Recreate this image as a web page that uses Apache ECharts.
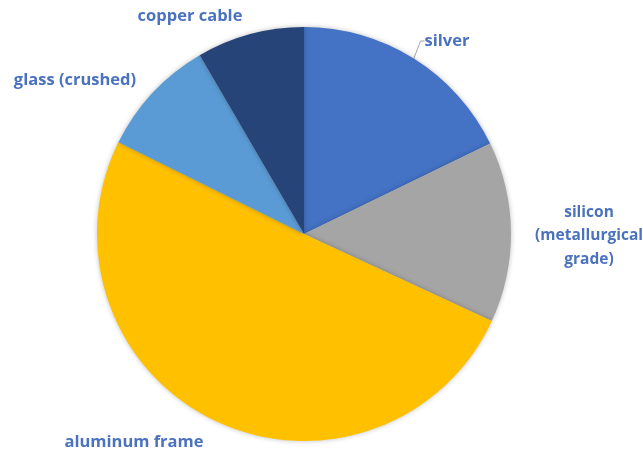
<!DOCTYPE html>
<html>
<head>
<meta charset="utf-8">
<script src="https://cdn.jsdelivr.net/npm/echarts@6/dist/echarts.min.js"></script>
<style>
  html, body { margin: 0; padding: 0; background: #fff; }
  #chart { width: 643px; height: 454px; }
</style>
</head>
<body>
<div id="chart"></div>
<script>
// Material share of a PV module (percent), clockwise from 12 o'clock
const materials = ['silver', 'silicon\n(metallurgical\ngrade)', 'aluminum frame', 'glass (crushed)', 'copper cable'];
const shares = [17.8, 14.1, 50.4, 9.3, 8.4];
const colors = ['#4472C4', '#A5A5A5', '#FFC000', '#5B9BD5', '#264478'];

// Where each category label sits (label anchor, not the slice)
const labelSpots = [
  { x: 447, y: 41 },
  { x: 589, y: 236 },
  { x: 134, y: 442 },
  { x: 75, y: 80 },
  { x: 190, y: 16 }
];

const chart = echarts.init(document.getElementById('chart'));
chart.setOption({
  animation: false,
  series: [{
    type: 'pie',
    center: [304, 234],
    radius: [0, 207],
    startAngle: 90,
    clockwise: true,
    avoidLabelOverlap: false,
    data: materials.map((name, i) => ({
      name,
      value: shares[i],
      itemStyle: { color: colors[i] },
      labelLine: { show: i === 0 },
      // the three-line label sits against the right edge, so it runs a touch smaller
      label: i === 1 ? { fontSize: 15.5 } : undefined
    })),
    itemStyle: {
      borderWidth: 0,
      shadowBlur: 5,
      shadowColor: 'rgba(0,0,0,0.25)'
    },
    label: {
      show: true,
      position: 'outside',
      formatter: '{b}',
      color: '#4A72BF',
      fontFamily: 'Open Sans',
      fontWeight: 'bold',
      fontSize: 16.5,
      lineHeight: 23.5,
      align: 'center'
    },
    labelLine: {
      show: false,
      length: 6,
      length2: 4,
      lineStyle: { color: '#A6A6A6', width: 1 }
    },
    labelLayout: function (params) {
      const s = labelSpots[params.dataIndex];
      return { x: s.x, y: s.y, align: 'center', verticalAlign: 'middle' };
    }
  }]
});
</script>
</body>
</html>
